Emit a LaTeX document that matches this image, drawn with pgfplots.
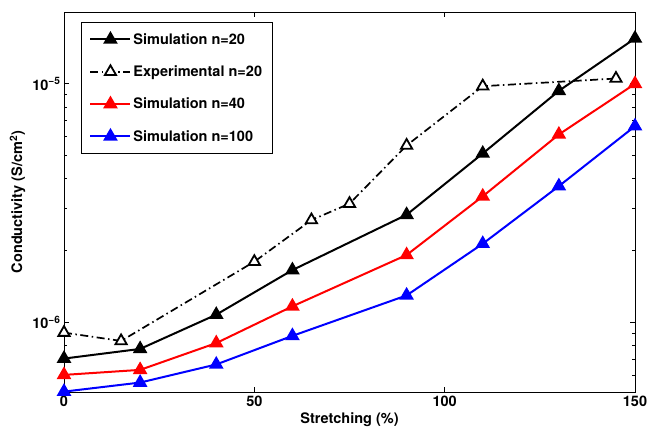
\documentclass[border=0pt]{standalone}
\usepackage{fontspec}
\setmainfont{TeX Gyre Heros}
\usepackage{pgfplots}
\pgfplotsset{compat=1.18}

\begin{document}
\begin{tikzpicture}
\useasboundingbox (-64pt,-37pt) rectangle (583pt,392pt);
\begin{axis}[
  at={(0pt,0pt)}, anchor=south west,
  scale only axis, width=571pt, height=380pt,
  ymode=log, xmin=0, xmax=150, ymin=5.12e-7, ymax=2e-5,
  clip=false,
  xtick={0,50,100,150},
  ytick={1e-6,1e-5},
  yticklabels={10\textsuperscript{−6}, 10\textsuperscript{−5}},
  minor ytick={6e-7,7e-7,8e-7,9e-7,2e-6,3e-6,4e-6,5e-6,6e-6,7e-6,8e-6,9e-6},
  tick align=inside, xtick pos=both, ytick pos=both,
  major tick length=5pt, minor tick length=3pt,
  tick style={black, line width=0.8pt},
  axis line style={line width=0.9pt},
  ticklabel style={font=\fontsize{14.5}{16}\selectfont\bfseries},
  /pgf/number format/assume math mode=true,
  label style={font=\fontsize{14.5}{16}\selectfont\bfseries},
  xlabel={Stretching (\%)},
  ylabel={Conductivity (S/cm\textsuperscript{2})},
  legend cell align=left,
  legend style={at={(rel axis cs:0.0298,0.974)}, anchor=north west,
    draw=black, line width=0.9pt,
    font=\fontsize{14.5}{16}\selectfont\bfseries,
    row sep=16pt, inner xsep=8pt, inner ysep=9pt},
  legend image code/.code={%
    \draw[mark repeat=2,mark phase=2,#1]
      plot coordinates {(0pt,0pt) (20pt,0pt) (40pt,0pt)};},
  every axis plot/.append style={line width=2pt, mark size=6.5pt},
]
% simulation, n = 20
\addplot[black, mark=triangle*] coordinates {
  (0,7.07e-7) (20,7.76e-7) (40,1.08e-6) (60,1.66e-6)
  (90,2.83e-6) (110,5.11e-6) (130,9.35e-6) (150,1.55e-5)};
\addlegendentry{Simulation n=20}
% measured values, n = 20
\addplot[black, line width=1.7pt, dash pattern=on 8pt off 3.5pt on 1.5pt off 3.5pt,
  mark=triangle*, mark options={solid, fill=white, line width=1.8pt}] coordinates {
  (0,9.08e-7) (15,8.38e-7) (50,1.80e-6) (65,2.69e-6)
  (75,3.15e-6) (90,5.52e-6) (110,9.78e-6) (145,1.053e-5)};
\addlegendentry{Experimental n=20}
% simulation, n = 40
\addplot[red, mark=triangle*] coordinates {
  (0,6.04e-7) (20,6.34e-7) (40,8.21e-7) (60,1.17e-6)
  (90,1.92e-6) (110,3.38e-6) (130,6.14e-6) (150,1.0e-5)};
\addlegendentry{Simulation n=40}
% simulation, n = 100
\addplot[blue, mark=triangle*] coordinates {
  (0,5.14e-7) (20,5.61e-7) (40,6.68e-7) (60,8.8e-7)
  (90,1.30e-6) (110,2.14e-6) (130,3.73e-6) (150,6.65e-6)};
\addlegendentry{Simulation n=100}
\end{axis}
\end{tikzpicture}
\end{document}
